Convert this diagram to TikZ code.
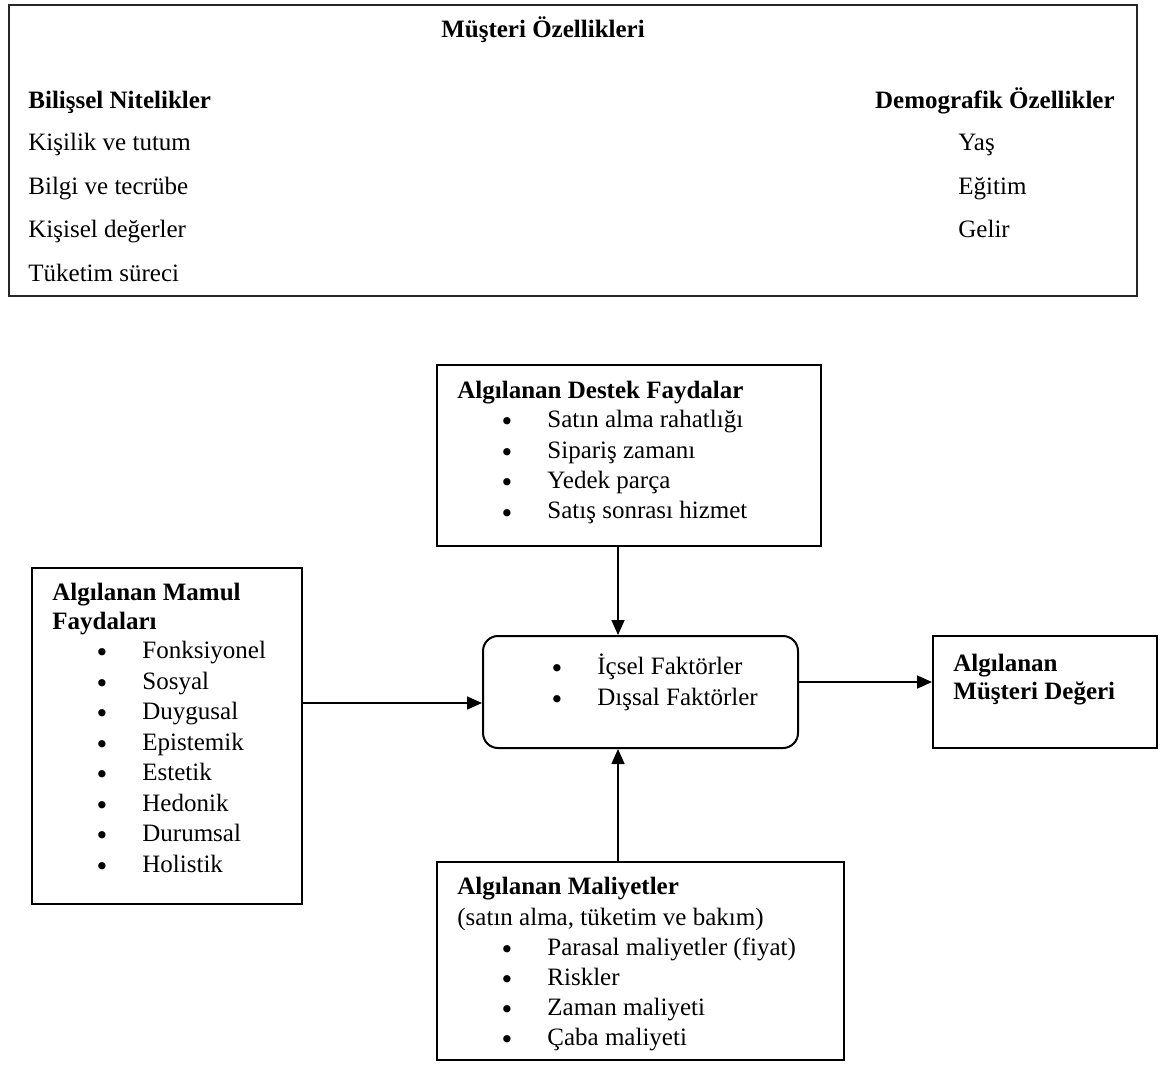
\documentclass[tikz,border=0pt]{standalone}
\usepackage{fontspec}
\setmainfont{Liberation Serif}
\newfontfamily\bulletfont{DejaVu Sans}
\usetikzlibrary{arrows.meta,fit}
\begin{document}
\begin{tikzpicture}[x=0.5pt,y=-0.5pt,
  box/.style={draw, line width=1pt, inner sep=0pt},
  txt/.style={inner sep=0pt, text height=0.66em, text depth=0pt, anchor=west,
              font=\fontsize{12.5}{15}\selectfont},
  hd/.style={txt, font=\fontsize{12.5}{15}\selectfont\bfseries},
  dot/.style={inner sep=0pt, anchor=base, yshift=-4.9pt,
              font=\bulletfont\fontsize{12.5}{15}\selectfont},
  arr/.style={line width=0.85pt, -{Triangle[length=7.5pt,width=6.5pt]}}]
\useasboundingbox (0,0) rectangle (1160,1065);

% ---- customer characteristics panel ----
\node[box, line width=1.2pt, draw=black!85, fit={(9,5) (1137,296)}] (musteri) {};
\node[hd, anchor=center] (mbaslik) at (543,31) {Müşteri Özellikleri};
\node[hd] (bilissel) at (28,102) {Bilişsel Nitelikler};
\node[hd, anchor=east] (demo) at (1115,102) {Demografik Özellikler};
\foreach \t [count=\i from 0] in {Kişilik ve tutum, Bilgi ve tecrübe, Kişisel değerler, Tüketim süreci}
  \node[txt] (b\i) at (28,{144+43.5*\i}) {\t};
\foreach \t [count=\i from 0] in {Yaş, Eğitim, Gelir}
  \node[txt] (d\i) at (958,{144+43.5*\i}) {\t};

% ---- support benefits ----
\node[box, fit={(437,365) (821,546)}] (destek) {};
\node[hd] (destekh) at (457,392) {Algılanan Destek Faydalar};
\foreach \t [count=\i from 0] in {Satın alma rahatlığı, Sipariş zamanı, Yedek parça, Satış sonrası hizmet}{
  \node[dot] (sd\i) at (507,{421+30.4*\i}) {•};
  \node[txt] (st\i) at (547,{421+30.4*\i}) {\t};
}

% ---- product benefits ----
\node[box, fit={(32,568) (302,904)}] (mamul) {};
\node[hd] (mamulh1) at (52,594) {Algılanan Mamul};
\node[hd] (mamulh2) at (52,623) {Faydaları};
\foreach \t [count=\i from 0] in {Fonksiyonel, Sosyal, Duygusal, Epistemik, Estetik, Hedonik, Durumsal, Holistik}{
  \node[dot] (md\i) at (102,{652+30.5*\i}) {•};
  \node[txt] (mt\i) at (142,{652+30.5*\i}) {\t};
}

% ---- factors (centre) ----
\node[box, rounded corners=7.5pt, fit={(483,636) (798,748)}] (faktor) {};
\foreach \t [count=\i from 0] in {İçsel Faktörler, Dışsal Faktörler}{
  \node[dot] (fd\i) at (557,{668+31*\i}) {•};
  \node[txt] (ft\i) at (597,{668+31*\i}) {\t};
}

% ---- perceived customer value ----
\node[box, fit={(933,636) (1157,748)}] (deger) {};
\node[hd] (degerh1) at (953,665) {Algılanan};
\node[hd] (degerh2) at (953,693) {Müşteri Değeri};

% ---- perceived costs ----
\node[box, fit={(437,862) (844,1060)}] (maliyet) {};
\node[hd] (maliyeth) at (457,888) {Algılanan Maliyetler};
\node[txt] (maliyets) at (457,919) {(satın alma, tüketim ve bakım)};
\foreach \t [count=\i from 0] in {Parasal maliyetler (fiyat), Riskler, Zaman maliyeti, Çaba maliyeti}{
  \node[dot] (cd\i) at (507,{949+30*\i}) {•};
  \node[txt] (ct\i) at (547,{949+30*\i}) {\t};
}

% ---- connectors ----
\coordinate (vx) at (618,0);
\coordinate (ly) at (0,703);
\coordinate (ry) at (0,682);
\draw[arr] (destek.south -| vx) -- (faktor.north -| vx);
\draw[arr] (maliyet.north -| vx) -- (faktor.south -| vx);
\draw[arr] (mamul.east |- ly) -- (faktor.west |- ly);
\draw[arr] (faktor.east |- ry) -- (deger.west |- ry);
\end{tikzpicture}
\end{document}
